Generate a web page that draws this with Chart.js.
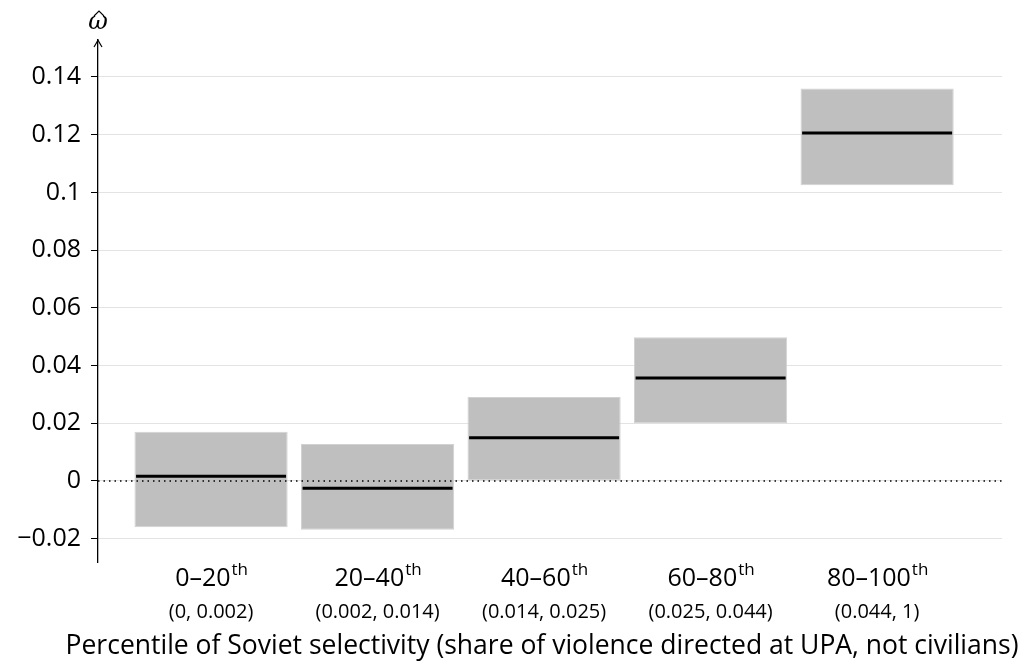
<!DOCTYPE html>
<html>
<head>
<meta charset="utf-8">
<script src="https://cdn.jsdelivr.net/npm/chart.js@4.4.1/dist/chart.umd.min.js"></script>
<style>
  html, body { margin: 0; padding: 0; background: #fff; }
  #wrap { width: 1032px; height: 664px; }
</style>
</head>
<body>
<div id="wrap"><canvas id="grafica" width="1032" height="664"></canvas></div>
<script>
// datos
var categorias = ["0\u201320", "20\u201340", "40\u201360", "60\u201380", "80\u2013100"];
var rangos = ["(0, 0.002)", "(0.002, 0.014)", "(0.014, 0.025)", "(0.025, 0.044)", "(0.044, 1)"];
var estimado = [0.0016, -0.0025, 0.015, 0.0357, 0.1206];
var limiteBajo = [-0.016, -0.0169, 0.0002, 0.020, 0.1025];
var limiteAlto = [0.0171, 0.0128, 0.0291, 0.0498, 0.136];
var yTicks = [-0.02, 0, 0.02, 0.04, 0.06, 0.08, 0.1, 0.12, 0.14];
var tituloX = "Percentile of Soviet selectivity (share of violence directed at UPA, not civilians)";

var fuente = "'Open Sans', 'DejaVu Sans', sans-serif";

var cajas = [], lineas = [];
for (var i = 0; i < categorias.length; i++) {
  cajas.push({ x: i + 1, y: [limiteBajo[i], limiteAlto[i]] });
  lineas.push({ x: i + 1, y: estimado[i] });
}

function etiquetaY(v) {
  if (v == 0) return "0";
  var s = String(Math.abs(Math.round(v * 100) / 100));
  return (v < 0 ? "\u2212" : "") + s;
}

var extras = {
  id: "extras",
  afterDatasetsDraw: function (chart) {
    var ctx = chart.ctx, a = chart.chartArea;
    var y0 = chart.scales.y.getPixelForValue(0);
    ctx.save();
    ctx.strokeStyle = "#000";
    ctx.lineWidth = 1.5;
    ctx.setLineDash([1.5, 4]);
    ctx.beginPath();
    ctx.moveTo(a.left, y0);
    ctx.lineTo(a.right, y0);
    ctx.stroke();
    ctx.restore();
  },
  afterDraw: function (chart) {
    var ctx = chart.ctx, a = chart.chartArea;
    var xs = chart.scales.x;
    ctx.save();
    // flecha del eje
    ctx.strokeStyle = "#000";
    ctx.lineWidth = 1.2;
    ctx.beginPath();
    ctx.moveTo(a.left - 4, a.top + 7);
    ctx.quadraticCurveTo(a.left - 1, a.top + 2, a.left, a.top);
    ctx.quadraticCurveTo(a.left + 1, a.top + 2, a.left + 4, a.top + 7);
    ctx.stroke();
    // omega con sombrero
    ctx.fillStyle = "#000";
    ctx.textAlign = "center";
    ctx.textBaseline = "alphabetic";
    ctx.font = "italic 24px 'DejaVu Serif', serif";
    ctx.fillText("\u03c9", a.left, 29);
    ctx.lineWidth = 1.1;
    ctx.beginPath();
    ctx.moveTo(a.left - 4, 16);
    ctx.lineTo(a.left + 1, 11);
    ctx.lineTo(a.left + 6, 16);
    ctx.stroke();
    // etiquetas del eje x
    for (var i = 0; i < categorias.length; i++) {
      var cx = xs.getPixelForValue(i + 1);
      ctx.font = "25px " + fuente;
      var w1 = ctx.measureText(categorias[i]).width;
      ctx.font = "17px " + fuente;
      var w2 = ctx.measureText("th").width;
      var x0 = cx - (w1 + w2) / 2;
      ctx.textAlign = "left";
      ctx.font = "25px " + fuente;
      ctx.fillText(categorias[i], x0, 586);
      ctx.font = "17px " + fuente;
      ctx.fillText("th", x0 + w1 + 1, 575);
      ctx.textAlign = "center";
      ctx.font = "20px " + fuente;
      ctx.fillText(rangos[i], cx, 618);
    }
    ctx.font = "26.5px " + fuente;
    ctx.fillText(tituloX, 542, 654);
    ctx.restore();
  }
};

var chart = new Chart(grafica, {
  type: "bar",
  data: {
    datasets: [
      {
        type: "line",
        data: lineas,
        showLine: false,
        pointStyle: "line",
        pointRadius: 75,
        pointHoverRadius: 75,
        pointBorderWidth: 3,
        pointBorderColor: "#000",
        borderColor: "#000",
        clip: false,
        order: 1
      },
      {
        type: "bar",
        data: cajas,
        backgroundColor: "#bfbfbf",
        borderColor: "#d2d2d2",
        borderWidth: 1,
        borderSkipped: false,
        categoryPercentage: 1,
        barPercentage: 0.92,
        order: 2
      }
    ]
  },
  options: {
    responsive: false,
    animation: false,
    events: [],
    layout: { autoPadding: false, padding: { left: 0, right: 30, top: 40, bottom: 102 } },
    plugins: { legend: { display: false }, tooltip: { enabled: false } },
    scales: {
      x: {
        type: "linear",
        min: 0.321,
        max: 5.75,
        offset: false,
        display: false,
        afterBuildTicks: function (scale) {
          scale.ticks = categorias.map(function (c, i) { return { value: i + 1 }; });
        }
      },
      y: {
        min: -0.02807,
        max: 0.1528,
        afterBuildTicks: function (scale) {
          scale.ticks = yTicks.map(function (v) { return { value: v }; });
        },
        afterFit: function (scale) { scale.width = 98; },
        grid: {
          color: "#e3e3e3",
          lineWidth: 1,
          tickColor: "#000",
          tickLength: 7,
          drawTicks: true
        },
        border: { display: true, color: "#000", width: 1.3 },
        ticks: {
          padding: 10,
          color: "#000",
          font: { family: fuente, size: 25 },
          callback: function (v) { return etiquetaY(v); }
        }
      }
    }
  },
  plugins: [extras]
});
</script>
</body>
</html>
